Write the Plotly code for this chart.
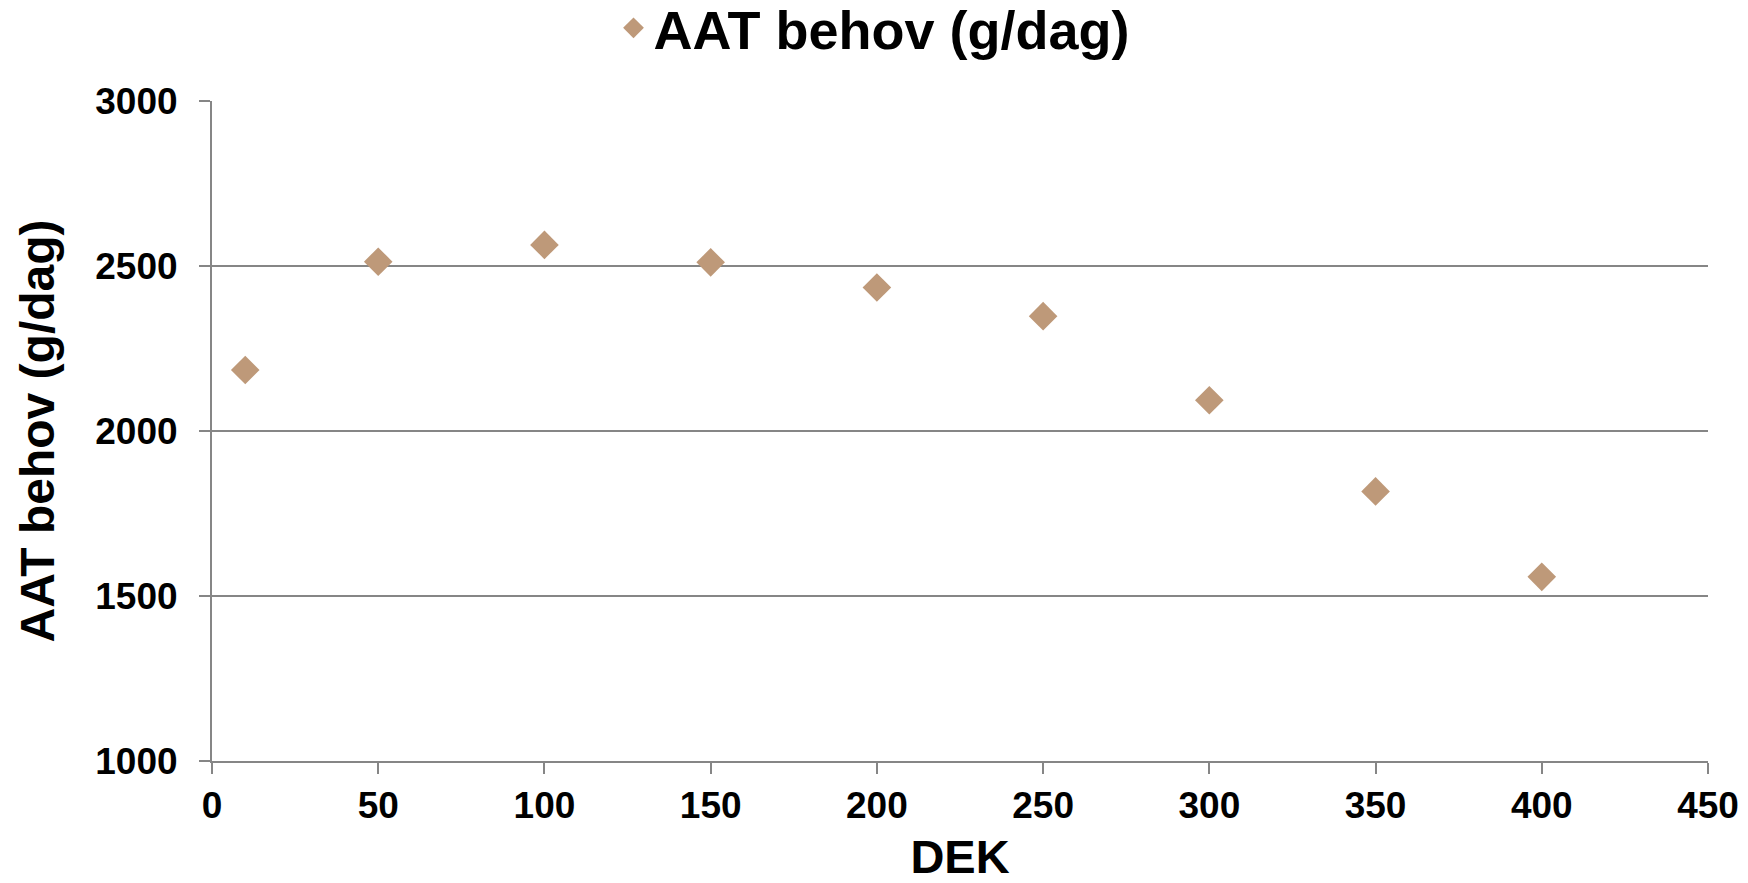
import plotly.graph_objects as go

dek = [10, 50, 100, 150, 200, 250, 300, 350, 400]
aat_behov = [2185, 2513, 2564, 2511, 2435, 2348, 2093, 1817, 1558]
series_name = "AAT behov (g/dag)"
x_title = "DEK"
y_title = "AAT behov (g/dag)"

FONT = "Liberation Sans, Arial, sans-serif"
GRAY = "#868686"
MARKER = "#BE9979"

fig = go.Figure()
fig.add_trace(go.Scatter(
    x=dek, y=aat_behov, mode="markers", name=series_name,
    marker=dict(symbol="diamond", size=22, color=MARKER, line=dict(width=0)),
))

fig.update_layout(
    width=1748, height=883,
    margin=dict(l=212, r=40, t=101, b=122, autoexpand=False),
    paper_bgcolor="white", plot_bgcolor="white",
    font=dict(family=FONT, color="black", weight="bold"),
    showlegend=True,
    legend=dict(
        orientation="h", xref="container", yref="container",
        x=0.5, xanchor="center", y=0.968, yanchor="middle",
        font=dict(size=54, family=FONT, color="black", weight="bold"),
        itemsizing="trace", bgcolor="rgba(0,0,0,0)",
    ),
    xaxis=dict(
        range=[0, 450], dtick=50, tick0=0,
        showgrid=False, zeroline=False,
        showline=True, linecolor=GRAY, linewidth=2,
        ticks="outside", ticklen=11, tickwidth=2, tickcolor=GRAY,
        tickfont=dict(size=37, family=FONT, color="black", weight="bold"),
        title=dict(text=x_title, font=dict(size=47, family=FONT, color="black", weight="bold"), standoff=18),
    ),
    yaxis=dict(
        range=[1000, 3000], dtick=500, tick0=1000,
        showgrid=True, gridcolor=GRAY, gridwidth=1.5, zeroline=False,
        showline=True, linecolor=GRAY, linewidth=2,
        ticks="outside", ticklen=11, tickwidth=2, tickcolor=GRAY,
        ticklabelstandoff=14,
        tickfont=dict(size=37, family=FONT, color="black", weight="bold"),
        title=dict(text=y_title, font=dict(size=48, family=FONT, color="black", weight="bold"), standoff=25),
    ),
)

fig.write_html("out.html")
